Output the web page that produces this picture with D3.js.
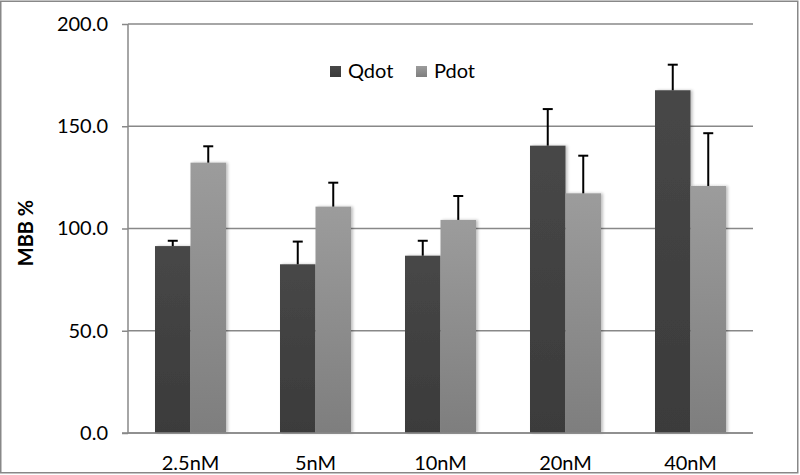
<!DOCTYPE html>
<html><head><meta charset="utf-8">
<script src="https://cdn.jsdelivr.net/npm/d3@7"></script>
<style>body{margin:0;background:#fff}svg{display:block}</style>
</head><body>
<svg id="c" width="800" height="475"></svg>
<script>
const categories = ["2.5nM","5nM","10nM","20nM","40nM"];
const seriesNames = ["Qdot","Pdot"];
const qdot = [91.4, 82.5, 86.7, 140.5, 167.6];
const qdotErr = [2.6, 11.1, 7.3, 17.9, 12.5];
const pdot = [132.2, 110.7, 104.2, 117.2, 120.8];
const pdotErr = [8.0, 11.7, 11.7, 18.4, 25.8];
const yTicks = [0, 50, 100, 150, 200];

(function(){
const svg = d3.select("#c");
const font = "Lato, 'Open Sans', sans-serif";
const pLeft = 128, pRight = 753, pTop = 24, pBottom = 433;
const y = d3.scaleLinear().domain([0,200]).range([pBottom, pTop]);
const x0 = d3.scaleBand().domain(categories).range([pLeft, pRight]).paddingInner(0.432).paddingOuter(0.216);
const x1 = d3.scaleBand().domain(seriesNames).range([0, x0.bandwidth()]);
const colors = {Qdot:["#474747","#3b3b3b"], Pdot:["#9c9c9c","#7e7e7e"]};

svg.append("rect").attr("x",0.75).attr("y",1.25).attr("width",797).attr("height",471.5)
  .attr("fill","#fff").attr("stroke","#888").attr("stroke-width",1.5);

const defs = svg.append("defs");
seriesNames.forEach(s=>{
  const g = defs.append("linearGradient").attr("id","g"+s).attr("x1",0).attr("y1",0).attr("x2",0).attr("y2",1);
  g.append("stop").attr("offset","0%").attr("stop-color",colors[s][0]);
  g.append("stop").attr("offset","100%").attr("stop-color",colors[s][1]);
});
const f = defs.append("filter").attr("id","sh").attr("x","-20%").attr("y","-5%").attr("width","150%").attr("height","110%");
f.append("feGaussianBlur").attr("in","SourceAlpha").attr("stdDeviation",1.5).attr("result","b");
f.append("feOffset").attr("in","b").attr("dx",2).attr("dy",0).attr("result","o");
f.append("feComponentTransfer").attr("in","o").attr("result","o2").append("feFuncA").attr("type","linear").attr("slope",0.25);
const fm = f.append("feMerge"); fm.append("feMergeNode").attr("in","o2"); fm.append("feMergeNode").attr("in","SourceGraphic");

const yAxis = d3.axisLeft(y).tickValues(yTicks).tickFormat(d3.format(".1f")).tickSize(6).tickPadding(14);
const ga = svg.append("g").attr("transform",`translate(${pLeft},0)`).call(yAxis);
ga.select(".domain").attr("stroke","#888").attr("stroke-width",1.5).attr("d",`M0,${pTop}V${pBottom}`);
ga.selectAll(".tick line").attr("stroke","#888").attr("stroke-width",1.5);
ga.selectAll(".tick text").attr("font-family",font).attr("font-size",20).attr("fill","#000");
svg.append("g").selectAll("line").data(yTicks).join("line")
  .attr("x1",pLeft).attr("x2",pRight).attr("y1",d=>y(d)).attr("y2",d=>y(d))
  .attr("stroke","#888").attr("stroke-width",1.5);

const data = categories.map((c,i)=>({c, vals:[{s:"Qdot",v:qdot[i],e:qdotErr[i]},{s:"Pdot",v:pdot[i],e:pdotErr[i]}]}));
const grp = svg.append("g").selectAll("g").data(data).join("g").attr("transform",d=>`translate(${x0(d.c)},0)`);
grp.selectAll("rect").data(d=>d.vals).join("rect")
  .attr("x",d=>x1(d.s)).attr("width",x1.bandwidth())
  .attr("y",d=>y(d.v)).attr("height",d=>y(0)-y(d.v))
  .attr("fill",d=>`url(#g${d.s})`).attr("filter","url(#sh)");
const eb = grp.selectAll("g.e").data(d=>d.vals).join("g").attr("class","e");
eb.append("line").attr("x1",d=>x1(d.s)+x1.bandwidth()/2).attr("x2",d=>x1(d.s)+x1.bandwidth()/2)
  .attr("y1",d=>y(d.v)).attr("y2",d=>y(d.v+d.e)).attr("stroke","#000").attr("stroke-width",2);
eb.append("line").attr("x1",d=>x1(d.s)+x1.bandwidth()/2-5).attr("x2",d=>x1(d.s)+x1.bandwidth()/2+5)
  .attr("y1",d=>y(d.v+d.e)).attr("y2",d=>y(d.v+d.e)).attr("stroke","#000").attr("stroke-width",2);

svg.append("line").attr("x1",pLeft-6).attr("x2",pRight).attr("y1",y(0)).attr("y2",y(0)).attr("stroke","#888").attr("stroke-width",1.5);

svg.append("g").selectAll("text").data(categories).join("text")
  .attr("x",d=>x0(d)+x0.bandwidth()/2).attr("y",469.5).attr("text-anchor","middle")
  .attr("font-family",font).attr("font-size",20).attr("fill","#000").text(d=>d);

svg.append("text").attr("transform","translate(33,233) rotate(-90)").attr("text-anchor","middle")
  .attr("font-family",font).attr("font-size",20).attr("font-weight","bold").attr("fill","#000").text("MBB %");

const legX = [330, 416];
const lg = svg.append("g").selectAll("g").data(seriesNames).join("g").attr("transform",(d,i)=>`translate(${legX[i]},66)`);
lg.append("rect").attr("width",11).attr("height",11).attr("fill",d=>`url(#g${d})`);
lg.append("text").attr("x",18).attr("y",12).attr("font-family",font).attr("font-size",20).attr("fill","#000").text(d=>d);
})();
</script>
</body></html>
